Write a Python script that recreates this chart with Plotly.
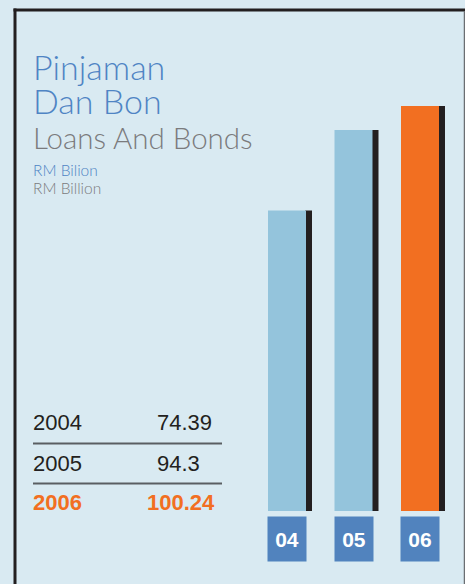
import plotly.graph_objects as go

# ---- data ----
years = ["2004", "2005", "2006"]
values = [74.39, 94.3, 100.24]
short_labels = ["04", "05", "06"]
title_ms_lines = ["Pinjaman", "Dan Bon"]
title_en = "Loans And Bonds"
unit_ms = "RM Bilion"
unit_en = "RM Billion"

# ---- style ----
W, H = 465, 584
BG = "#d9eaf2"
BAR_BLUE = "#94c4dc"
BAR_ORANGE = "#f26f21"
SHADOW = "#231f20"
BOX = "#5183be"
TITLE_BLUE = "#4f84c4"
GRAY = "#7b7b7d"
DARK = "#231f20"
RULE = "#5a5e62"

def px(x):
    return x / W

def py(y):
    return 1 - y / H

bar_colors = [BAR_BLUE, BAR_BLUE, BAR_ORANGE]

# category spacing in px
step = 66.5
main_w = 38 / step
main_off = -22 / step
sh_w = 7 / step
sh_off = 15 / step

fig = go.Figure()
fig.add_trace(go.Bar(x=short_labels, y=values, width=sh_w, offset=sh_off,
                     marker=dict(color=SHADOW, line=dict(width=0)),
                     hoverinfo="skip", showlegend=False))
fig.add_trace(go.Bar(x=short_labels, y=values, width=main_w, offset=main_off,
                     marker=dict(color=bar_colors, line=dict(width=0)),
                     showlegend=False))

x0 = 290 - 0.5 * step
x1 = 290 + 2.5 * step
scale = 4.04

annotations = []
# label boxes (category index positions)
for i, lab in enumerate(short_labels):
    annotations.append(dict(x=i, xref="x", y=py(539), yref="paper", text="<b>%s</b>" % lab,
                            showarrow=False, xshift=-3, width=38, height=44, bgcolor=BOX,
                            borderpad=0, xanchor="center", yanchor="middle",
                            font=dict(family="Liberation Sans Narrow, Liberation Sans, sans-serif",
                                      size=21, color="white")))

def txt(text, x, y, size, color, family="Lato, sans-serif", anchor="left", weight=None):
    f = dict(family=family, size=size, color=color)
    if weight is not None:
        f["weight"] = weight
    annotations.append(dict(x=px(x), y=py(y), xref="paper", yref="paper", text=text,
                            showarrow=False, xanchor=anchor, yanchor="middle", font=f))

txt(title_ms_lines[0], 31, 66, 34, TITLE_BLUE, weight=300)
txt(title_ms_lines[1], 31, 100, 34, TITLE_BLUE, weight=300)
txt(title_en, 31, 137, 29.5, GRAY, weight=300)
txt(unit_ms, 31, 170, 15.5, TITLE_BLUE, weight=300)
txt(unit_en, 31, 188, 15.5, GRAY, weight=300)

TF = "Liberation Sans Narrow, Liberation Sans, sans-serif"
row_y = [422, 463, 503]
val_right = [214, 202, 217]
for i, (yr, v) in enumerate(zip(years, values)):
    last = i == len(years) - 1
    col = BAR_ORANGE if last else DARK
    t_year = "<b>%s</b>" % yr if last else yr
    t_val = "<b>%s</b>" % v if last else str(v)
    txt(t_year, 31, row_y[i], 22, col, family=TF)
    txt(t_val, val_right[i], row_y[i], 22, col, family=TF, anchor="right")

shapes = [
    dict(type="line", xref="paper", yref="paper", x0=px(33), x1=px(222), y0=py(443.5), y1=py(443.5),
         line=dict(color=RULE, width=2)),
    dict(type="line", xref="paper", yref="paper", x0=px(33), x1=px(222), y0=py(483.5), y1=py(483.5),
         line=dict(color=RULE, width=2)),
    dict(type="line", xref="paper", yref="paper", x0=px(15), x1=px(15), y0=py(8.5), y1=py(590),
         line=dict(color=SHADOW, width=3)),
    dict(type="line", xref="paper", yref="paper", x0=px(13.5), x1=px(470), y0=py(10), y1=py(10),
         line=dict(color=SHADOW, width=3)),
    dict(type="line", xref="paper", yref="paper", x0=px(464.5), x1=px(464.5), y0=py(11), y1=py(590),
         line=dict(color="#6b6e72", width=1.5)),
]

fig.update_layout(
    width=W, height=H,
    margin=dict(l=0, r=0, t=0, b=0),
    paper_bgcolor=BG, plot_bgcolor=BG,
    barmode="overlay",
    xaxis=dict(domain=[px(x0), px(x1)], range=[-0.5, 2.5], visible=False, type="category"),
    yaxis=dict(domain=[(H - 511) / H, 1], range=[0, 511 / scale], visible=False),
    annotations=annotations,
    shapes=shapes,
)

fig.write_html("out.html", config={"displayModeBar": False},
               post_script="document.body.style.margin='0';document.body.style.background='%s';" % BG)
